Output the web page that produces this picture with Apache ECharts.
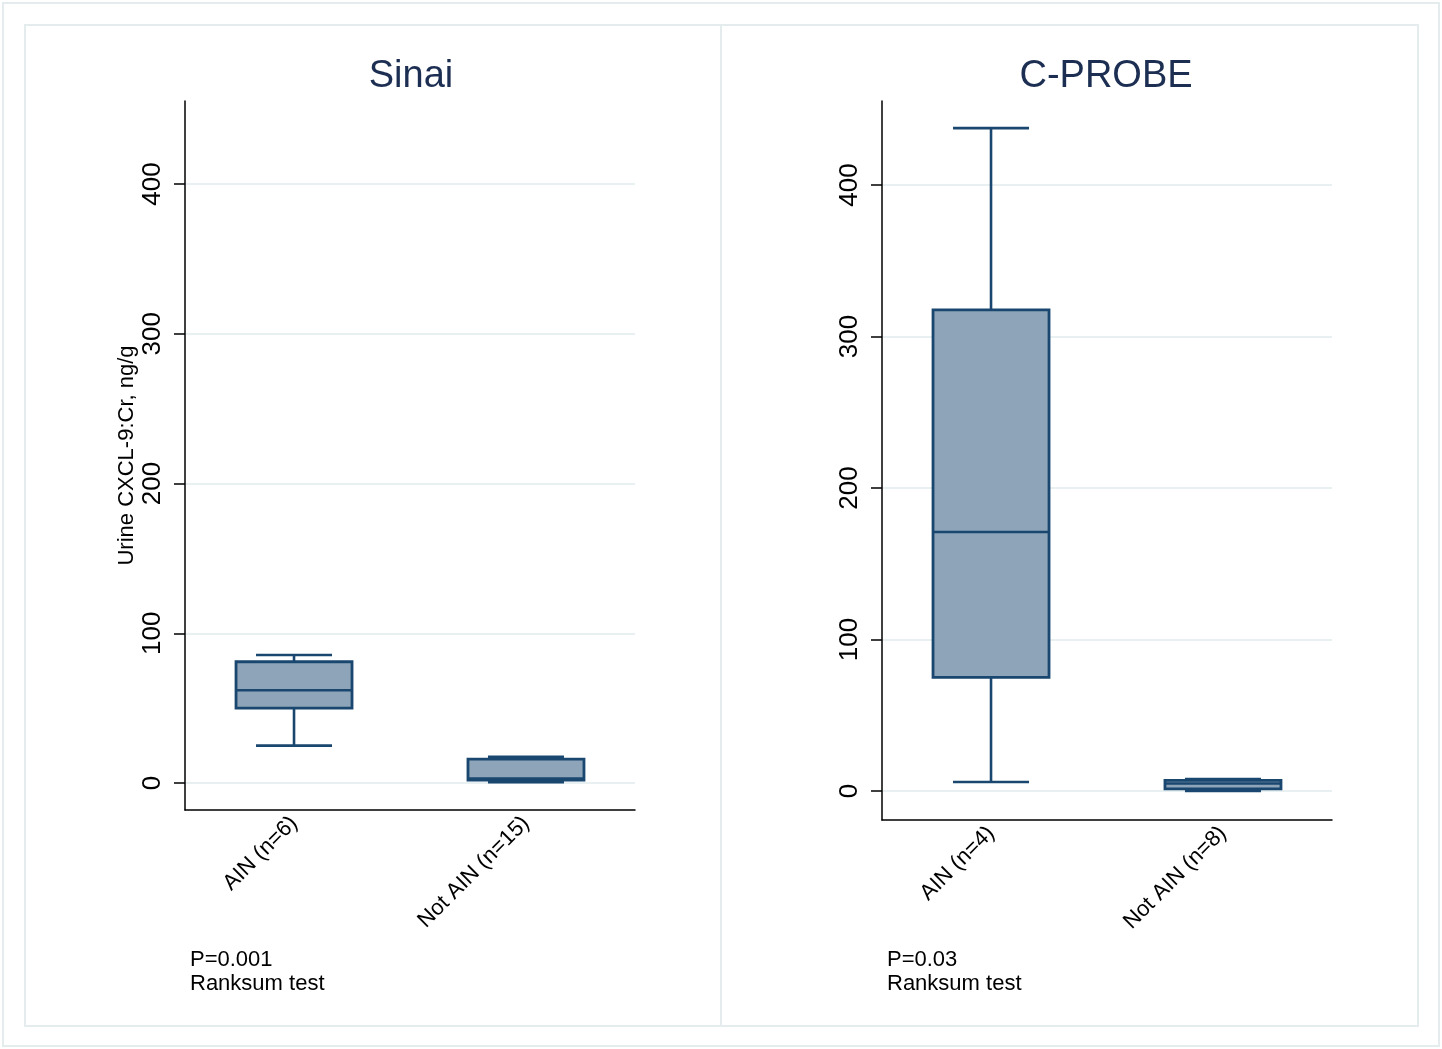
<!DOCTYPE html>
<html>
<head>
<meta charset="utf-8" />
<title>Urine CXCL-9:Cr</title>
<script type="text/javascript" src="https://cdn.jsdelivr.net/npm/echarts@6/dist/echarts.min.js"></script>
<style>
  html, body { margin: 0; padding: 0; background: #fff; }
</style>
</head>
<body>
<div id="chart" style="width:1442px; height:1049px"></div>
<script type="text/javascript">
// categories per panel
var sinaiCats = ['AIN (n=6)', 'Not AIN (n=15)'];
var cprobeCats = ['AIN (n=4)', 'Not AIN (n=8)'];
// box values: [min, q1, median, q3, max]
var sinaiBoxes = [
  [25, 50, 62, 81, 85.5],
  [0.5, 2, 3, 16, 17.5]
];
var cprobeBoxes = [
  [6, 75, 171, 317.5, 437.5],
  [0, 1.5, 5, 7, 8]
];
var yTicks = [0, 100, 200, 300, 400];
var pTexts = ['P=0.001\nRanksum test', 'P=0.03\nRanksum test'];

var FONT = 'Liberation Sans, Arial, sans-serif';
var navy = '#1a476f';

// group positions 1, 2 on the x scale
function toItems(boxes) {
  return boxes.map(function (b, i) { return [i + 1].concat(b); });
}

// draws one box with narrower whisker caps
function renderBox(params, api) {
  var c = api.value(0);
  var pMin = api.coord([c, api.value(1)]);
  var pQ1 = api.coord([c, api.value(2)]);
  var pMed = api.coord([c, api.value(3)]);
  var pQ3 = api.coord([c, api.value(4)]);
  var pMax = api.coord([c, api.value(5)]);
  var x = pMed[0], hw = 58, cw = 38;
  var line = { stroke: navy, lineWidth: 2.6 };
  return {
    type: 'group',
    children: [
      { type: 'line', shape: { x1: x, y1: pQ3[1], x2: x, y2: pMax[1] }, style: line },
      { type: 'line', shape: { x1: x, y1: pQ1[1], x2: x, y2: pMin[1] }, style: line },
      { type: 'line', shape: { x1: x - cw, y1: pMax[1], x2: x + cw, y2: pMax[1] }, style: line },
      { type: 'line', shape: { x1: x - cw, y1: pMin[1], x2: x + cw, y2: pMin[1] }, style: line },
      { type: 'rect', shape: { x: x - hw, y: pQ3[1], width: hw * 2, height: pQ1[1] - pQ3[1] },
        style: { fill: '#8ea4b8', stroke: navy, lineWidth: 2.8 } },
      { type: 'line', shape: { x1: x - hw, y1: pMed[1], x2: x + hw, y2: pMed[1] }, style: line }
    ]
  };
}

function yAxisFor(idx, min, max, name) {
  return {
    type: 'value', gridIndex: idx, min: min, max: max,
    name: name, nameLocation: 'middle', nameGap: 47,
    nameTextStyle: { fontFamily: FONT, fontSize: 22, color: '#000' },
    axisLine: { show: true, onZero: false, lineStyle: { color: '#000', width: 1.5 } },
    axisTick: { show: true, length: 11, customValues: yTicks, lineStyle: { color: '#000', width: 1.5 } },
    axisLabel: { customValues: yTicks, rotate: 90, margin: 19, fontFamily: FONT, fontSize: 26, color: '#000' },
    splitLine: { show: true, lineStyle: { color: '#e9f0f2', width: 2 } }
  };
}

function xAxisFor(idx, cats) {
  return {
    type: 'value', gridIndex: idx, min: 0.53, max: 2.47,
    axisLine: { show: true, onZero: false, lineStyle: { color: '#000', width: 1.5 } },
    axisTick: { show: false },
    splitLine: { show: false },
    axisLabel: {
      customValues: [1, 2], rotate: 45, margin: 10,
      fontFamily: FONT, fontSize: 22, color: '#000',
      formatter: function (v) { return cats[Math.round(v) - 1]; }
    }
  };
}

var myChart = echarts.init(document.getElementById('chart'));
myChart.setOption({
  backgroundColor: '#fff',
  animation: false,
  title: [
    { text: 'Sinai', left: 406, top: 53, textAlign: 'center',
      textStyle: { fontFamily: FONT, fontSize: 38, fontWeight: 'normal', color: '#1c2e52' } },
    { text: 'C-PROBE', left: 1101, top: 53, textAlign: 'center',
      textStyle: { fontFamily: FONT, fontSize: 38, fontWeight: 'normal', color: '#1c2e52' } }
  ],
  grid: [
    { left: 185, top: 101, width: 450, height: 709 },
    { left: 882, top: 101, width: 450, height: 719 }
  ],
  xAxis: [xAxisFor(0, sinaiCats), xAxisFor(1, cprobeCats)],
  yAxis: [
    yAxisFor(0, -18, 455.4, 'Urine CXCL-9:Cr, ng/g'),
    yAxisFor(1, -19.1, 455.4, '')
  ],
  series: [
    { type: 'custom', xAxisIndex: 0, yAxisIndex: 0, renderItem: renderBox,
      encode: { x: 0, y: [1, 2, 3, 4, 5] }, data: toItems(sinaiBoxes) },
    { type: 'custom', xAxisIndex: 1, yAxisIndex: 1, renderItem: renderBox,
      encode: { x: 0, y: [1, 2, 3, 4, 5] }, data: toItems(cprobeBoxes) }
  ],
  graphic: [
    { type: 'rect', shape: { x: 3, y: 3, width: 1436, height: 1043 },
      style: { fill: 'none', stroke: '#e4eced', lineWidth: 2 }, z: -1 },
    { type: 'rect', shape: { x: 25, y: 25, width: 696, height: 1001 },
      style: { fill: 'none', stroke: '#e4eced', lineWidth: 2 }, z: -1 },
    { type: 'rect', shape: { x: 721, y: 25, width: 697, height: 1001 },
      style: { fill: 'none', stroke: '#e4eced', lineWidth: 2 }, z: -1 },
    { type: 'text', left: 190, top: 948,
      style: { text: pTexts[0], font: '22px ' + FONT, fill: '#000', lineHeight: 24 } },
    { type: 'text', left: 887, top: 948,
      style: { text: pTexts[1], font: '22px ' + FONT, fill: '#000', lineHeight: 24 } }
  ]
});
</script>
</body>
</html>
